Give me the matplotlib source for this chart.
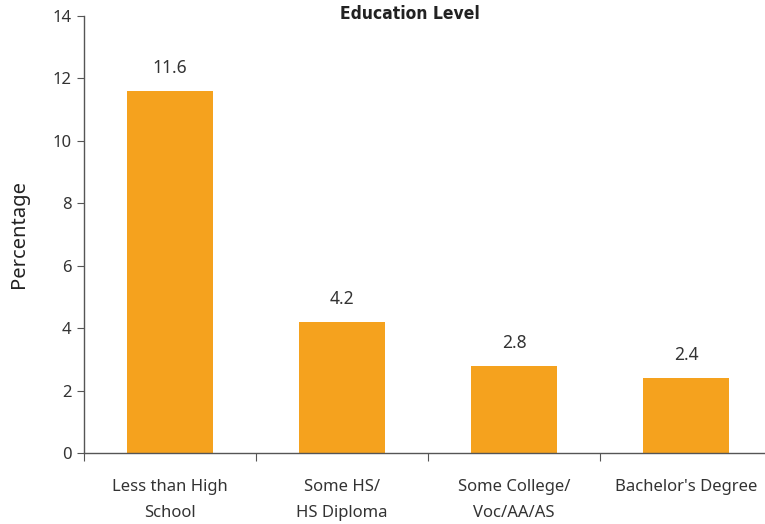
import matplotlib.pyplot as plt

categories = ["Less than High\nSchool", "Some HS/\nHS Diploma", "Some College/\nVoc/AA/AS", "Bachelor's Degree"]
values = [11.6, 4.2, 2.8, 2.4]
y_ticks = [0, 2, 4, 6, 8, 10, 12, 14]

plt.rcParams["font.family"] = "Noto Sans"
text_color = "#333333"

fig = plt.figure(figsize=(7.65, 5.24), dpi=100)
ax = fig.add_axes([84 / 765, 71 / 524, 688 / 765, 437 / 524])

x = list(range(len(categories)))
bars = ax.bar(x, values, width=0.5, color="#F5A21E", zorder=2)
for xi, v in zip(x, values):
    ax.annotate(f"{v}", (xi, v), xytext=(0, 10), textcoords="offset points",
                ha="center", va="bottom", fontsize=12.5, color=text_color)

ax.set_xlim(-0.5, 3.5)
ax.set_ylim(0, 14)
ax.set_yticks(y_ticks)
ax.set_xticks([-0.5, 0.5, 1.5, 2.5, 3.5])
ax.set_xticklabels([])
ax.set_xticks(x, minor=True)
ax.set_xticklabels(categories, minor=True, fontsize=12, color=text_color, linespacing=1.8)
ax.tick_params(axis="x", which="minor", length=0, pad=19)
ax.tick_params(axis="x", which="major", length=6, direction="out", color="#555555")
ax.tick_params(axis="y", length=5, direction="out", color="#555555", labelsize=12,
               labelcolor=text_color, pad=4)

for s in ["top", "right"]:
    ax.spines[s].set_visible(False)
for s in ["left", "bottom"]:
    ax.spines[s].set_color("#555555")
    ax.spines[s].set_linewidth(1.0)

ax.set_ylabel("Percentage", fontsize=14.5, color="#222222", labelpad=17)
fig.text(410 / 765, 1 - 14 / 524, "Education Level", family="DejaVu Sans", fontstretch="condensed",
         fontweight="bold", fontsize=12.5, ha="center", va="center", color="#222222")

fig.savefig("out.png", dpi=100)
